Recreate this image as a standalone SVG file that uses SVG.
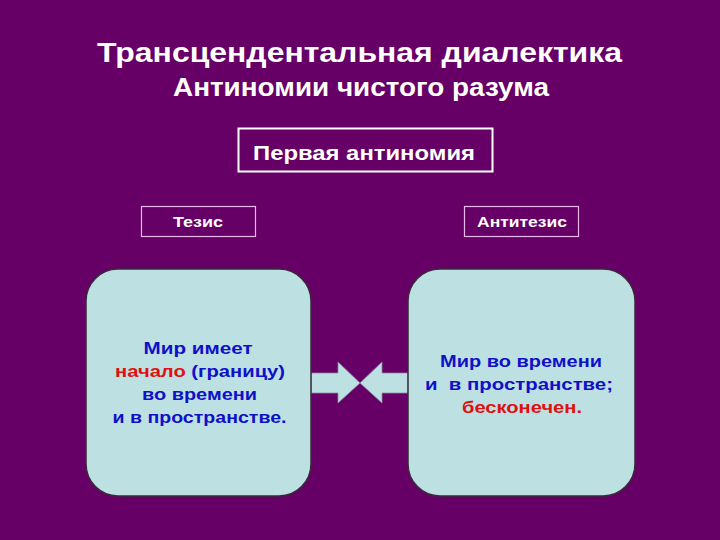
<svg xmlns="http://www.w3.org/2000/svg" width="720" height="540" viewBox="0 0 720 540">
<style>
text{font-family:"Liberation Sans",Arial,sans-serif;font-weight:bold;text-anchor:middle}
.w{fill:#ffffff}
.b{fill:#1010c8;font-size:17px}
.r{fill:#e01010}
.card{fill:#bde0e3;stroke:#3a2a3a;stroke-width:1.5}
.lbl{fill:none;stroke:#e8b8e8;stroke-width:1.2}
.arr{fill:#bde0e3;stroke:#8a8a9a;stroke-width:0.8}
</style>
<rect width="720" height="540" fill="#660066"/>
<text class="w" x="359.5" y="62" font-size="28" textLength="525" lengthAdjust="spacingAndGlyphs">Трансцендентальная диалектика</text>
<text class="w" x="361" y="96" font-size="25" textLength="376" lengthAdjust="spacingAndGlyphs">Антиномии чистого разума</text>
<g id="first">
<rect x="238.5" y="128.5" width="254" height="43" fill="none" stroke="#ffffff" stroke-width="2"/>
<text class="w" x="364" y="160" font-size="21" textLength="222" lengthAdjust="spacingAndGlyphs">Первая антиномия</text>
</g>
<g id="thesis-label">
<rect class="lbl" x="141.5" y="206.5" width="114" height="30"/>
<text class="w" x="198" y="227" font-size="15" textLength="50" lengthAdjust="spacingAndGlyphs">Тезис</text>
</g>
<g id="antithesis-label">
<rect class="lbl" x="464.5" y="206.5" width="114" height="30"/>
<text class="w" x="522" y="227" font-size="15" textLength="90" lengthAdjust="spacingAndGlyphs">Антитезис</text>
</g>
<g id="connectors">
<polygon class="arr" points="311,373 338,373 338,362 360,383 338,403 338,393 311,393"/>
<polygon class="arr" points="408,373 382,373 382,362 360,383 382,403 382,393 408,393"/>
</g>
<g id="thesis">
<rect class="card" x="86" y="269" width="225" height="227" rx="32"/>
<text class="b" x="198" y="354" textLength="109" lengthAdjust="spacingAndGlyphs">Мир имеет</text>
<text class="b" x="200" y="377" textLength="170" lengthAdjust="spacingAndGlyphs"><tspan class="r">начало</tspan> (границу)</text>
<text class="b" x="199.5" y="400" textLength="115" lengthAdjust="spacingAndGlyphs">во времени</text>
<text class="b" x="199.5" y="423" textLength="174" lengthAdjust="spacingAndGlyphs">и в пространстве.</text>
</g>
<g id="antithesis">
<rect class="card" x="408" y="269" width="227" height="227" rx="32"/>
<text class="b" x="521" y="367" textLength="162" lengthAdjust="spacingAndGlyphs">Мир во времени</text>
<text class="b" x="519" y="390" xml:space="preserve" textLength="188" lengthAdjust="spacingAndGlyphs">и  в пространстве;</text>
<text class="b r" x="522" y="413" textLength="120" lengthAdjust="spacingAndGlyphs">бесконечен.</text>
</g>
</svg>
